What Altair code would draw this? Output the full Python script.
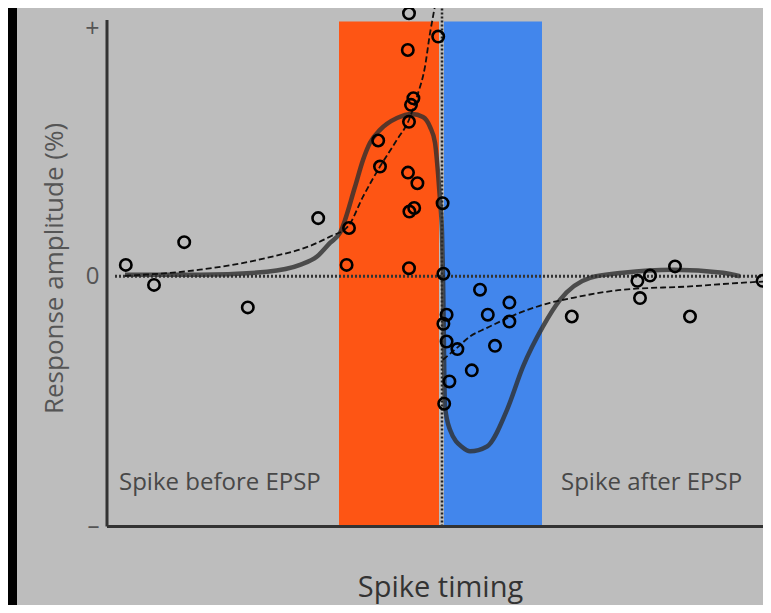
import altair as alt
import pandas as pd

# ---- data (spike timing in ms-like units, amplitude in % of full scale)
pts_t = [-78.8, -71.75, -64.2, -48.3, -30.7,
         -23.6, -23.0, -15.7, -15.25, -8.25, -5.9, -7.9, -6.7, -8.0,
         -8.0, -8.3, -0.7, -6.9, -7.5, -8.0, 0.4, 0.6,
         9.75, 17.1, 1.4, 0.6, 11.7, 17.1, 1.4, 4.1, 13.5, 7.7, 2.1, 0.8,
         32.7, 49.1, 52.25, 49.75, 58.5, 62.25, 80.4]
pts_v = [4.5, -3.4, 13.5, -12.3, 23.0,
         4.5, 19.1, 53.7, 43.4, 41.0, 36.8, 25.6, 27.0, 3.2,
         104.0, 89.5, 94.8, 70.4, 67.8, 61.1, 28.9, 1.0,
         -5.3, -10.4, -15.2, -18.8, -15.2, -17.9, -25.8, -28.8, -27.5, -37.2, -41.6, -50.4,
         -15.9, -1.8, 0.3, -8.6, 3.9, -15.9, -1.8]

solid_t = [-79, -60.25, -43.5, -35.25, -31, -27.75, -25.25, -21.5, -19.5, -17.75, -15.25,
           -11, -7.25, -4.5, -2.75, -1.5, -0.75, -0.25, 0.25, 0.5, 1, 2.25, 5.5, 7.25,
           11.5, 16.5, 20.5, 25.5, 29.75, 37.25, 45.5, 58, 70.5, 74.75]
solid_v = [0.6, 0.6, 1.8, 4.5, 7.8, 13.2, 17.2, 35.4, 46.0, 52.8, 57.9,
           62.6, 64.2, 63.0, 59.1, 52.8, 40.9, 30.2, 17.2, -0.2, -51.5, -60.7, -67.8, -69.2,
           -67.3, -52.8, -35.7, -19.8, -9.3, -0.6, 1.4, 2.6, 1.4, 0.0]

dashL_t = [-79, -60.25, -43.5, -32, -27.75, -23.25, -19.5, -15.25, -11, -8, -6, -4, -2.75, -2, -1.25]
dashL_v = [0.2, 2.6, 7.3, 12.5, 15.7, 19.7, 31.5, 43.4, 54.0, 61.9, 71.1, 82.9, 96.1, 102.7, 109.3]

dashR_t = [0.5, 4, 7.25, 11.5, 19.75, 27.25, 33, 45.5, 62.25, 74.75, 80.5]
dashR_v = [-33, -28.3, -23.8, -20.4, -14.4, -10.5, -8.5, -5.3, -4.0, -2.6, -2.1]

bar_names = ["before", "after"]
bar_start = [-25.5, 0.75]
bar_end = [-0.5, 25.25]
bar_top = [100.8, 100.8]
bar_bottom = [-99, -99]
bar_colors = ["#fe5514", "#4286ec"]

notes = ["Spike before EPSP", "Spike after EPSP"]
notes_t = [-80.5, 30]
notes_v = [-81.6, -81.6]

FONT = "Open Sans"
GREY = "#bdbdbd"

xs = alt.Scale(domain=[-106, 80.5], nice=False, zero=False)
ys = alt.Scale(domain=[-130.0, 106.1], nice=False, zero=False)

x_axis = alt.Axis(offset=-78, domain=False, ticks=False, labels=False, grid=False,
                  title="Spike timing", titleFont=FONT, titleFontSize=29, titleColor="#333333",
                  titleFontWeight="normal", titleX=423, titleY=60, titleAlign="center",
                  titleBaseline="middle")
y_axis = alt.Axis(offset=-90, domain=False, ticks=False, grid=False, values=[98, 0, -99],
                  labelExpr="datum.value > 50 ? '+' : (datum.value < -50 ? '–' : '0')",
                  labelFont=FONT,
                  labelFontSize={"condition": {"test": "datum.value > 50", "value": 25}, "value": 24},
                  labelColor="#555555", labelPadding=8,
                  title="Response amplitude (%)", titleFont=FONT, titleFontSize=26,
                  titleColor="#555555", titleFontWeight="normal", titleAngle=-90,
                  titleX=-53, titleY=260, titleAlign="center", titleBaseline="middle")


def X(field, **kw):
    return alt.X(field, type="quantitative", scale=xs, axis=x_axis, **kw)


def Y(field, **kw):
    return alt.Y(field, type="quantitative", scale=ys, axis=y_axis, **kw)


bars_df = pd.DataFrame({"name": bar_names, "t0": bar_start, "t1": bar_end,
                        "v0": bar_bottom, "v1": bar_top})
bars = alt.Chart(bars_df).mark_rect().encode(
    x=X("t0"), x2="t1", y=Y("v0"), y2="v1",
    color=alt.Color("name:N", scale=alt.Scale(domain=bar_names, range=bar_colors), legend=None),
)

# zero reference (dotted) lines
zero_h = alt.Chart(pd.DataFrame({"t0": [-81.5], "t1": [80.5], "v": [0]})).mark_rule(
    color="#333333", strokeWidth=3, strokeDash=[2, 2]
).encode(x=X("t0"), x2="t1", y=Y("v"))
zero_v = alt.Chart(pd.DataFrame({"t": [0.25], "v0": [-99], "v1": [106.1]})).mark_rule(
    color="#222222", strokeWidth=2.5, strokeDash=[2, 2]
).encode(x=X("t"), y=Y("v0"), y2="v1")

# axis lines
ax_y = alt.Chart(pd.DataFrame({"t": [-83.5], "v0": [-99], "v1": [101.4]})).mark_rule(
    color="#333333", strokeWidth=3
).encode(x=X("t"), y=Y("v0"), y2="v1")
ax_x = alt.Chart(pd.DataFrame({"t0": [-83.5], "t1": [80.5], "v": [-99]})).mark_rule(
    color="#333333", strokeWidth=3
).encode(x=X("t0"), x2="t1", y=Y("v"))

solid = alt.Chart(pd.DataFrame({"t": solid_t, "v": solid_v, "o": range(len(solid_t))})).mark_line(
    color="#2e2e2e", strokeWidth=4.5, opacity=0.8, interpolate="monotone"
).encode(x=X("t"), y=Y("v"), order="o:Q")

dash_df = pd.DataFrame({
    "t": dashL_t + dashR_t,
    "v": dashL_v + dashR_v,
    "seg": ["L"] * len(dashL_t) + ["R"] * len(dashR_t),
    "o": list(range(len(dashL_t))) + list(range(len(dashR_t))),
})
dashed = alt.Chart(dash_df).mark_line(
    color="#111111", strokeWidth=1.8, strokeDash=[6, 3], interpolate="monotone", clip=True
).encode(x=X("t"), y=Y("v"), detail="seg:N", order="o:Q")

points = alt.Chart(pd.DataFrame({"t": pts_t, "v": pts_v})).mark_point(
    shape="circle", filled=False, color="#000000", size=130, strokeWidth=2.6, opacity=1
).encode(x=X("t"), y=Y("v"))

labels = alt.Chart(pd.DataFrame({"txt": notes, "t": notes_t, "v": notes_v})).mark_text(
    align="left", baseline="middle", font=FONT, fontSize=24, color="#484848"
).encode(x=X("t"), y=Y("v"), text="txt:N")

chart = alt.layer(bars, zero_h, zero_v, ax_y, ax_x, solid, dashed, points, labels).properties(
    width=746, height=597,
    autosize=alt.AutoSizeParams(type="none"),
    padding={"left": 9, "top": 0, "right": 0, "bottom": 0},
    background="#000000",
).configure_view(fill=GREY, stroke=None)

chart.save("out.html", embed_options={"renderer": "svg", "actions": False})
